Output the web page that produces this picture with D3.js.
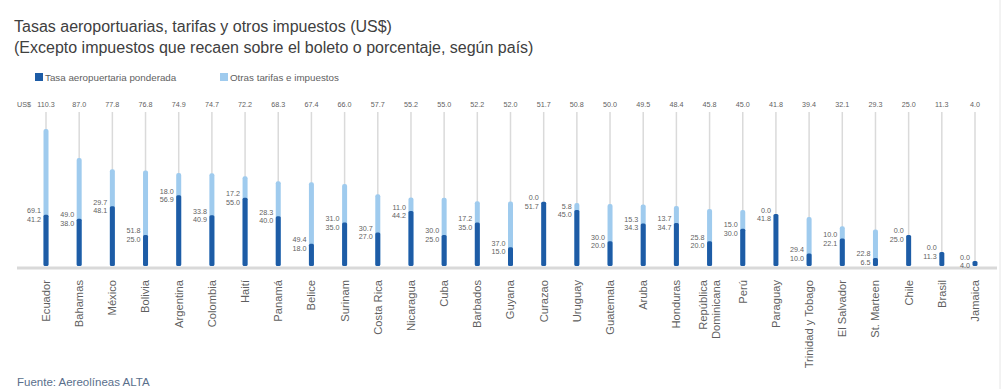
<!DOCTYPE html>
<html>
<head>
<meta charset="utf-8">
<script src="https://cdn.jsdelivr.net/npm/d3@7"></script>
<style>
  body { margin: 0; background: #fff; }
  svg text { font-family: "Liberation Sans", Arial, sans-serif; }
</style>
</head>
<body>
<svg id="chart" width="1007" height="389"></svg>
<script>
// data
const countries = ["Ecuador", "Bahamas", "México", "Bolivia", "Argentina", "Colombia", "Haití", "Panamá",
    "Belice", "Surinam", "Costa Rica", "Nicaragua", "Cuba", "Barbados", "Guyana", "Curazao", "Uruguay",
    "Guatemala", "Aruba", "Honduras", "República Dominicana", "Perú", "Paraguay", "Trinidad y Tobago",
    "El Salvador", "St. Marteen", "Chile", "Brasil", "Jamaica"];
const tasaPonderada = [41.2, 38.0, 48.1, 25.0, 56.9, 40.9, 55.0, 40.0, 18.0, 35.0, 27.0, 44.2, 25.0, 35.0,
    15.0, 51.7, 45.0, 20.0, 34.3, 34.7, 20.0, 30.0, 41.8, 10.0, 22.1, 6.5, 25.0, 11.3, 4.0];
const otrasTarifas = [69.1, 49.0, 29.7, 51.8, 18.0, 33.8, 17.2, 28.3, 49.4, 31.0, 30.7, 11.0, 30.0, 17.2,
    37.0, 0.0, 5.8, 30.0, 15.3, 13.7, 25.8, 15.0, 0.0, 29.4, 10.0, 22.8, 0.0, 0.0, 0.0];
const totales = [110.3, 87.0, 77.8, 76.8, 74.9, 74.7, 72.2, 68.3, 67.4, 66.0, 57.7, 55.2, 55.0, 52.2,
    52.0, 51.7, 50.8, 50.0, 49.5, 48.4, 45.8, 45.0, 41.8, 39.4, 32.1, 29.3, 25.0, 11.3, 4.0];
const seriesNames = ["Tasa aeropuertaria ponderada", "Otras tarifas e impuestos"];

const colDark = "#1d5ca6", colLight = "#9fcbee", txt = "#5f5f5f";

const data = countries.map((c, i) => ({
    name: c, tasa: tasaPonderada[i], otras: otrasTarifas[i], total: totales[i]
}));

const svg = d3.select("#chart");
const fmt = d3.format(".1f");

// title
svg.append("text").attr("x", 14).attr("y", 32)
    .attr("font-size", 16).attr("fill", "#404040")
    .text("Tasas aeroportuarias, tarifas y otros impuestos (US$)");
svg.append("text").attr("x", 14).attr("y", 53)
    .attr("font-size", 16).attr("fill", "#404040")
    .text("(Excepto impuestos que recaen sobre el boleto o porcentaje, según país)");

// legend
const legX = [35, 220];
seriesNames.forEach((s, i) => {
    let g = svg.append("g").attr("transform", "translate(" + legX[i] + ",73)");
    g.append("rect").attr("width", 8).attr("height", 8).attr("fill", i == 0 ? colDark : colLight);
    g.append("text").attr("x", 10).attr("y", 8).attr("font-size", 9.8).attr("fill", txt).text(s);
});

let xScale = d3.scalePoint()
    .domain(countries)
    .range([46, 975]);

let yScale = d3.scaleLinear()
    .domain([0, d3.max(data, d => d.total)])
    .range([266, 129]);

const barW = 5;

// grey guide lines
svg.selectAll(".guide").data(data).enter().append("line")
    .attr("class", "guide")
    .attr("x1", d => xScale(d.name)).attr("x2", d => xScale(d.name))
    .attr("y1", 112).attr("y2", 266)
    .attr("stroke", "#dadada").attr("stroke-width", 1.5);

// baseline
svg.append("line").attr("x1", 17).attr("x2", 997).attr("y1", 268).attr("y2", 268)
    .attr("stroke", "#d9d9d9").attr("stroke-width", 3);

// light bars (total)
svg.selectAll(".barLight").data(data.filter(d => d.otras > 0)).enter().append("rect")
    .attr("class", "barLight")
    .attr("x", d => xScale(d.name) - barW / 2)
    .attr("y", d => yScale(d.total))
    .attr("width", barW)
    .attr("height", d => yScale(0) - yScale(d.total))
    .attr("rx", 2)
    .attr("fill", colLight);

// dark bars
svg.selectAll(".barDark").data(data).enter().append("rect")
    .attr("class", "barDark")
    .attr("x", d => xScale(d.name) - barW / 2)
    .attr("y", d => yScale(d.tasa))
    .attr("width", barW)
    .attr("height", d => yScale(0) - yScale(d.tasa))
    .attr("rx", 1.5)
    .attr("fill", colDark);

// value labels next to bars
let lab = svg.selectAll(".valLab").data(data).enter().append("g")
    .attr("class", "valLab")
    .attr("transform", d => "translate(" + (xScale(d.name) - 5) + "," + yScale(d.tasa) + ")");
lab.append("text").attr("y", -1.5).attr("text-anchor", "end").attr("font-size", 7.2).attr("fill", txt)
    .text(d => fmt(d.otras));
lab.append("text").attr("y", 7).attr("text-anchor", "end").attr("font-size", 7.2).attr("fill", txt)
    .text(d => fmt(d.tasa));

// totals on top
svg.append("text").attr("x", 17).attr("y", 107).attr("font-size", 7.2).attr("fill", txt).text("US$");
svg.selectAll(".totLab").data(data).enter().append("text")
    .attr("class", "totLab")
    .attr("x", d => xScale(d.name)).attr("y", 107)
    .attr("text-anchor", "middle").attr("font-size", 7.2).attr("fill", txt)
    .text(d => fmt(d.total));

// category labels, rotated
let cat = svg.selectAll(".catLab").data(data).enter().append("text")
    .attr("class", "catLab")
    .attr("transform", d => "translate(" + xScale(d.name) + ",280) rotate(-90)")
    .attr("text-anchor", "end").attr("font-size", 11.2).attr("fill", txt);
cat.each(function (d) {
    let t = d3.select(this);
    if (d.name == "República Dominicana") {
        t.append("tspan").attr("x", 0).attr("dy", "-0.25em").text("República");
        t.append("tspan").attr("x", 0).attr("dy", "1.2em").text("Dominicana");
    } else {
        t.attr("dy", "0.35em").text(d.name);
    }
});

// source
svg.append("text").attr("x", 17).attr("y", 386).attr("font-size", 11.5).attr("fill", "#5a6f8c")
    .text("Fuente: Aereolíneas ALTA");

// right edge line
svg.append("line").attr("x1", 1000).attr("x2", 1000).attr("y1", 0).attr("y2", 389)
    .attr("stroke", "#e6e6e6").attr("stroke-width", 1);
</script>
</body>
</html>
